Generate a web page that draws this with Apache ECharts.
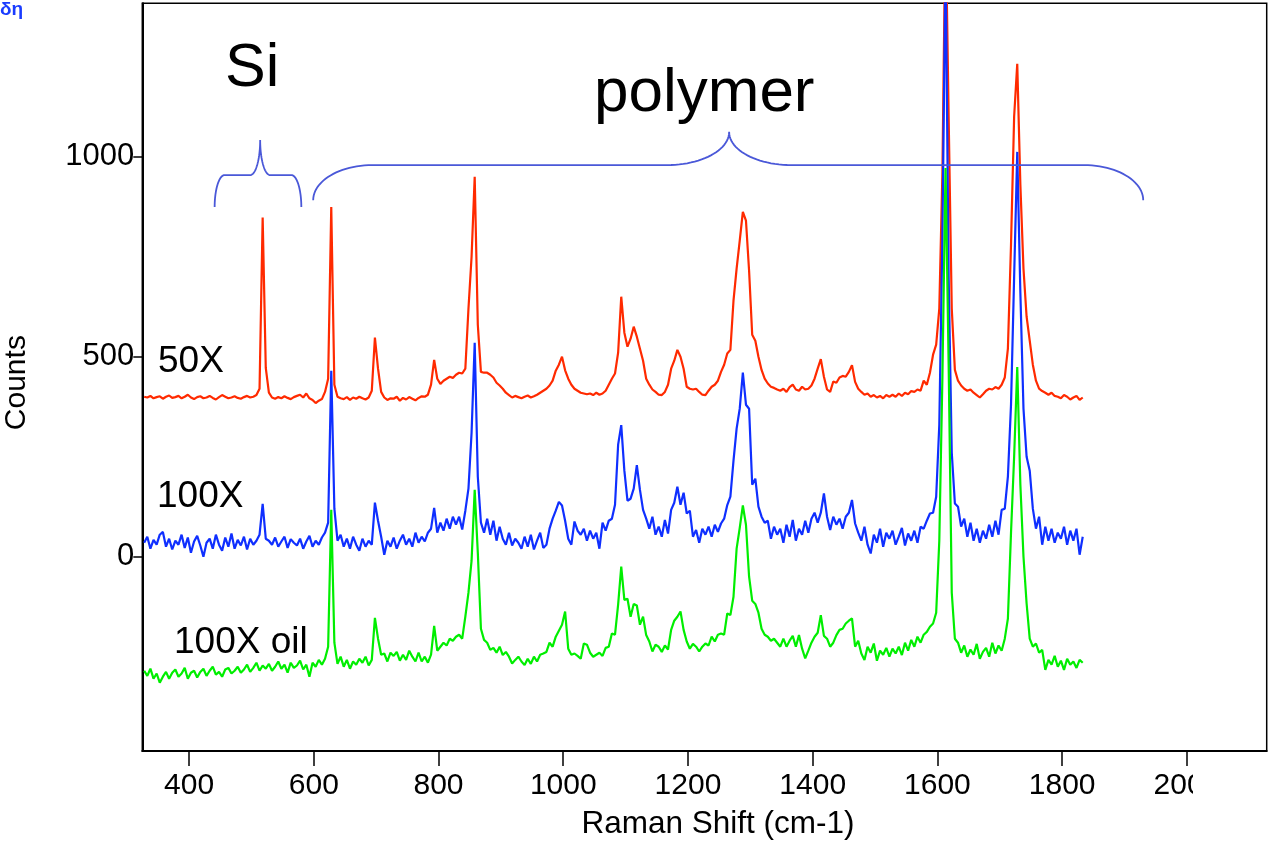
<!DOCTYPE html>
<html><head><meta charset="utf-8">
<script src="https://cdn.jsdelivr.net/npm/echarts@6/dist/echarts.min.js"></script>
<style>html,body{margin:0;padding:0;background:#fff}#c{width:1270px;height:841px}</style>
</head><body><div id="c"></div>
<script>
// Raman shift sampling grid (cm-1)
const shiftStart = 328, shiftStep = 5;
const seriesNames = ['50X', '100X', '100X oil'];
const xTicks = [400, 600, 800, 1000, 1200, 1400, 1600, 1800, 2000];
const yTicks = [0, 500, 1000];

const red50X = [
400,398,402,396,399,401,395,400,403,397,
399,402,396,400,405,398,394,399,401,396,
398,402,397,393,399,404,400,396,398,401,
397,395,399,402,398,400,404,420,848,472,
410,398,395,399,396,401,397,394,399,402,
405,398,408,396,392,384,390,394,412,445,
874,430,400,396,394,399,392,398,395,400,
396,393,398,415,548,470,412,398,392,396,
395,400,390,397,393,399,395,391,397,401,
400,405,430,492,445,432,440,445,450,447,
455,460,458,470,620,750,950,580,462,460,
460,455,448,435,428,420,410,404,398,402,
399,396,400,403,398,401,405,410,415,420,
428,440,465,480,500,466,445,430,420,415,
410,408,406,408,404,410,405,408,415,430,
445,458,510,650,560,525,545,575,550,520,
490,445,430,418,412,405,404,412,430,470,
490,517,500,470,425,420,418,420,412,405,
404,415,425,430,440,462,480,508,517,640,
720,790,862,840,715,555,540,500,467,445,
433,425,422,418,415,420,412,424,430,418,
415,425,418,420,428,445,470,494,450,418,
412,438,435,448,452,450,462,479,437,420,
412,405,408,400,404,398,402,396,404,400,
405,400,408,402,410,406,414,412,418,415,
440,430,460,505,530,620,960,1600,1100,620,
467,440,428,420,415,418,410,404,398,406,
415,420,418,424,420,430,448,520,780,1100,
1232,930,720,600,540,480,440,420,414,410,
405,410,402,400,396,404,400,393,398,402,392,398];

const blue100X = [
35,50,20,42,30,55,62,25,45,18,
40,30,55,22,48,10,38,52,28,0,
35,45,20,55,30,15,48,25,58,20,
42,28,50,18,45,30,40,55,132,45,
40,30,48,25,38,50,22,44,35,28,
45,20,38,52,25,40,30,48,60,85,
465,120,40,55,25,45,20,50,30,15,
45,25,40,30,135,90,50,5,40,25,
48,20,40,55,30,45,25,60,35,50,
38,60,70,122,60,85,65,95,70,100,
80,100,68,115,170,310,535,200,85,60,
95,55,90,40,75,45,30,60,28,45,
35,20,50,25,55,18,40,60,22,30,
70,95,115,137,128,90,45,30,88,65,
55,70,40,65,45,60,20,85,65,90,
95,130,280,329,215,140,145,170,229,167,
117,95,70,100,55,75,50,92,58,117,
135,175,130,160,108,115,50,67,35,70,
55,75,50,80,62,83,95,129,150,240,
320,370,460,380,370,180,195,125,100,85,
90,45,75,55,70,35,80,50,92,40,
70,55,90,60,95,110,85,110,158,100,
67,100,80,95,70,100,110,142,83,60,
40,75,30,8,55,35,70,25,60,45,
65,30,50,72,28,58,40,65,35,75,
70,90,108,110,150,330,800,1500,700,260,
133,125,75,95,50,85,40,70,35,65,
45,80,50,90,55,117,120,200,380,700,
1012,660,370,250,215,120,70,100,30,75,
40,70,35,60,45,75,30,65,40,70,5,50];

const green100XOil = [
-285,-298,-280,-305,-292,-315,-300,-288,-305,-290,
-282,-300,-292,-278,-305,-290,-285,-302,-288,-280,
-298,-285,-275,-295,-288,-300,-282,-278,-292,-285,
-275,-290,-282,-270,-288,-278,-265,-285,-272,-280,
-268,-285,-275,-262,-280,-270,-290,-265,-278,-272,
-260,-282,-270,-300,-265,-275,-258,-270,-255,-225,
117,-215,-268,-250,-275,-258,-280,-262,-270,-255,
-265,-250,-272,-258,-153,-205,-245,-242,-262,-240,
-248,-238,-260,-245,-258,-235,-250,-262,-240,-262,
-250,-265,-245,-173,-235,-225,-215,-222,-205,-210,
-200,-195,-205,-150,-90,-10,167,10,-180,-208,
-215,-233,-228,-240,-225,-246,-238,-250,-267,-258,
-250,-262,-271,-255,-268,-250,-262,-245,-242,-238,
-215,-225,-200,-185,-170,-137,-230,-245,-242,-248,
-255,-217,-220,-240,-250,-245,-240,-248,-228,-225,
-192,-195,-120,-25,-108,-105,-150,-118,-122,-170,
-150,-196,-212,-237,-220,-225,-238,-222,-232,-183,
-160,-150,-137,-183,-212,-230,-218,-225,-237,-225,
-217,-222,-200,-212,-195,-192,-195,-142,-146,-100,
20,72,128,80,-50,-110,-118,-140,-180,-195,
-200,-210,-205,-215,-225,-205,-225,-210,-198,-225,
-196,-230,-254,-235,-215,-200,-190,-146,-198,-205,
-225,-215,-196,-183,-180,-167,-160,-154,-225,-210,
-242,-258,-225,-240,-217,-260,-235,-245,-228,-250,
-230,-242,-225,-246,-215,-235,-208,-225,-200,-215,
-195,-188,-175,-167,-140,40,450,972,480,-90,
-205,-215,-240,-222,-250,-232,-245,-218,-255,-238,
-228,-250,-215,-242,-222,-235,-205,-155,60,250,
474,180,0,-117,-205,-225,-217,-240,-233,-283,
-258,-270,-248,-275,-260,-283,-255,-270,-262,-278,-258,-265];

// brace annotations (data units): [xLeft, xRight, xTip, yEnds, yBar, yTip, hookWidth, tipWidth]
const siBrace = [441, 580, 514, 874, 954, 1042, 16, 16];
const polymerBrace = [599, 1930, 1266, 891, 979, 1062, 95, 100];

const FONT = '"Liberation Sans", Arial, Helvetica, sans-serif';
const colors = ['#ff2a00', '#0f2fff', '#00ee00'];
const valueSets = [red50X, blue100X, green100XOil];
const shifts = red50X.map((_, i) => shiftStart + i * shiftStep);

const chart = echarts.init(document.getElementById('c'), null, {renderer: 'canvas'});
chart.setOption({
  animation: false,
  backgroundColor: '#ffffff',
  grid: {left: 142.3, right: 3.3, top: 3.3, bottom: 90, show: true, borderColor: '#000', borderWidth: 1.5,
         containLabel: false, outerBoundsMode: 'none'},
  xAxis: {
    type: 'value', min: 325, max: 2128,
    name: 'Raman Shift (cm-1)', nameLocation: 'middle', nameGap: 57,
    nameTextStyle: {fontSize: 31.5, color: '#000', fontFamily: FONT, padding: [0, 0, 0, 27]},
    axisLine: {show: true, onZero: false, lineStyle: {color: '#000', width: 2}},
    axisTick: {show: true, inside: false, length: 15, customValues: xTicks, lineStyle: {color: '#000', width: 1.5}},
    axisLabel: {show: true, customValues: xTicks, fontSize: 30, color: '#000', fontFamily: FONT, margin: 20,
                formatter: v => String(v)},
    splitLine: {show: false}
  },
  yAxis: {
    type: 'value', min: -485.75, max: 1383.5,
    name: 'Counts', nameLocation: 'middle', nameGap: 111, nameRotate: 90,
    nameTextStyle: {fontSize: 30, color: '#000', fontFamily: FONT, padding: [0, 11, 0, 0]},
    axisLine: {show: true, onZero: false, lineStyle: {color: '#000', width: 2}},
    axisTick: {show: true, inside: false, length: 9, customValues: yTicks, lineStyle: {color: '#000', width: 1.5}},
    axisLabel: {show: true, customValues: yTicks, fontSize: 31, color: '#000', fontFamily: FONT, margin: 8,
                padding: [5, 0, 0, 0], formatter: v => String(v)},
    splitLine: {show: false}
  },
  series: valueSets.map((vals, s) => ({
    type: 'line', name: seriesNames[s],
    data: vals.map((v, i) => [shifts[i], v]),
    showSymbol: false, symbol: 'none', silent: true, clip: true,
    lineStyle: {color: colors[s], width: 2.2}, itemStyle: {color: colors[s]},
    z: 2 + s
  }))
});

function px(x, y) { return chart.convertToPixel({gridIndex: 0}, [x, y]); }
function cubicPts(p0, c1, c2, p3, out) {
  for (let i = 1; i <= 24; i++) {
    const t = i / 24, u = 1 - t;
    out.push([u*u*u*p0[0] + 3*u*u*t*c1[0] + 3*u*t*t*c2[0] + t*t*t*p3[0],
              u*u*u*p0[1] + 3*u*u*t*c1[1] + 3*u*t*t*c2[1] + t*t*t*p3[1]]);
  }
}
function bracePoints(b) {
  const [xl, xr, xt, yEnd, yBar, yTip, hw, tw] = b;
  const k = 0.552;
  const L = px(xl, yEnd), Lh = px(xl + hw, yBar), T0 = px(xt - tw, yBar), T = px(xt, yTip),
        T1 = px(xt + tw, yBar), Rh = px(xr - hw, yBar), R = px(xr, yEnd);
  const pts = [L];
  cubicPts(L, [L[0], L[1] - k * (L[1] - Lh[1])], [Lh[0] - k * (Lh[0] - L[0]), Lh[1]], Lh, pts);
  pts.push(T0);
  cubicPts(T0, [T0[0] + k * (T[0] - T0[0]), T0[1]], [T[0], T[1] + k * (T0[1] - T[1])], T, pts);
  cubicPts(T, [T[0], T[1] + k * (T1[1] - T[1])], [T1[0] - k * (T1[0] - T[0]), T1[1]], T1, pts);
  pts.push(Rh);
  cubicPts(Rh, [Rh[0] + k * (R[0] - Rh[0]), Rh[1]], [R[0], R[1] - k * (R[1] - Rh[1])], R, pts);
  return pts;
}
function label(text, x, y, size, fill, weight) {
  return {type: 'text', x: x, y: y, z: 60, silent: true,
    style: {text: text, font: (weight || 'normal') + ' ' + size + 'px ' + FONT, fill: fill || '#000',
            align: 'left', textAlign: 'left', verticalAlign: 'middle', textVerticalAlign: 'middle'}};
}
chart.setOption({
  graphic: [
    {type: 'polyline', z: 50, silent: true, shape: {points: bracePoints(siBrace)}, style: {fill: null, stroke: '#4a58d8', lineWidth: 1.8}},
    {type: 'polyline', z: 50, silent: true, shape: {points: bracePoints(polymerBrace)}, style: {fill: null, stroke: '#4a58d8', lineWidth: 1.8}},
    label('Si', 225, 69, 61),
    label('polymer', 594, 94, 62),
    label('50X', 158, 362, 37),
    label('100X', 157, 497, 37),
    label('100X oil', 174, 643, 37),
    label('δη', 0, 10, 19, '#1a3cff', 'bold'),
    {type: 'rect', z: 100, silent: true, shape: {x: 1193, y: 766, width: 77, height: 42}, style: {fill: '#ffffff'}}
  ]
});
</script>
</body></html>
